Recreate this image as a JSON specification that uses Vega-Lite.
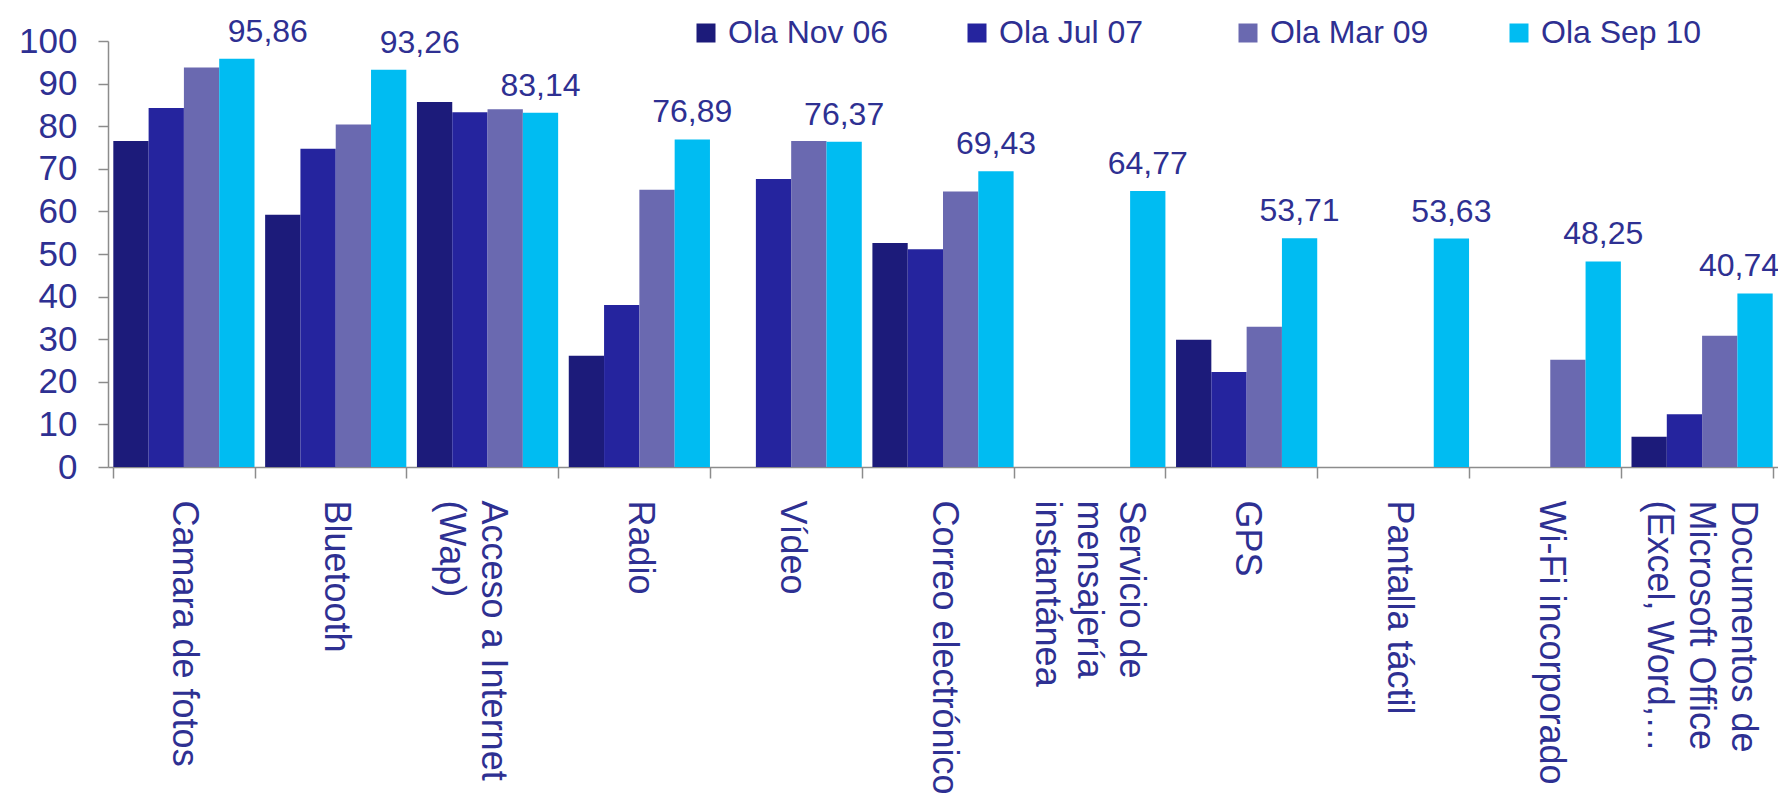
{
  "$schema": "https://vega.github.io/schema/vega-lite/v6.json",
  "width": 1670,
  "height": 426,
  "autosize": {"type": "none"},
  "padding": {"left": 108, "top": 41, "right": 0, "bottom": 336},
  "background": "white",
  "config": {
    "view": {"stroke": null},
    "font": "Liberation Sans",
    "locale": {"number": {"decimal": ",", "thousands": ".", "grouping": [3], "currency": ["", " €"]}}
  },
  "data": {
    "values": [
      {"category": "Camara de fotos", "series": "Ola Nov 06", "value": 76.5},
      {"category": "Camara de fotos", "series": "Ola Jul 07", "value": 84.3},
      {"category": "Camara de fotos", "series": "Ola Mar 09", "value": 93.8},
      {"category": "Camara de fotos", "series": "Ola Sep 10", "value": 95.86},
      {"category": "Bluetooth", "series": "Ola Nov 06", "value": 59.2},
      {"category": "Bluetooth", "series": "Ola Jul 07", "value": 74.7},
      {"category": "Bluetooth", "series": "Ola Mar 09", "value": 80.4},
      {"category": "Bluetooth", "series": "Ola Sep 10", "value": 93.26},
      {"category": "Acceso a Internet (Wap)", "series": "Ola Nov 06", "value": 85.7},
      {"category": "Acceso a Internet (Wap)", "series": "Ola Jul 07", "value": 83.3},
      {"category": "Acceso a Internet (Wap)", "series": "Ola Mar 09", "value": 84.0},
      {"category": "Acceso a Internet (Wap)", "series": "Ola Sep 10", "value": 83.14},
      {"category": "Radio", "series": "Ola Nov 06", "value": 26.1},
      {"category": "Radio", "series": "Ola Jul 07", "value": 38.0},
      {"category": "Radio", "series": "Ola Mar 09", "value": 65.1},
      {"category": "Radio", "series": "Ola Sep 10", "value": 76.89},
      {"category": "Vídeo", "series": "Ola Jul 07", "value": 67.6},
      {"category": "Vídeo", "series": "Ola Mar 09", "value": 76.5},
      {"category": "Vídeo", "series": "Ola Sep 10", "value": 76.37},
      {"category": "Correo electrónico", "series": "Ola Nov 06", "value": 52.6},
      {"category": "Correo electrónico", "series": "Ola Jul 07", "value": 51.1},
      {"category": "Correo electrónico", "series": "Ola Mar 09", "value": 64.7},
      {"category": "Correo electrónico", "series": "Ola Sep 10", "value": 69.43},
      {"category": "Servicio de mensajería instantánea", "series": "Ola Sep 10", "value": 64.77},
      {"category": "GPS", "series": "Ola Nov 06", "value": 29.9},
      {"category": "GPS", "series": "Ola Jul 07", "value": 22.3},
      {"category": "GPS", "series": "Ola Mar 09", "value": 32.9},
      {"category": "GPS", "series": "Ola Sep 10", "value": 53.71},
      {"category": "Pantalla táctil", "series": "Ola Sep 10", "value": 53.63},
      {"category": "Wi-Fi incorporado", "series": "Ola Mar 09", "value": 25.2},
      {"category": "Wi-Fi incorporado", "series": "Ola Sep 10", "value": 48.25},
      {"category": "Documentos de Microsoft Office (Excel, Word, PowerPoint)", "series": "Ola Nov 06", "value": 7.1},
      {"category": "Documentos de Microsoft Office (Excel, Word, PowerPoint)", "series": "Ola Jul 07", "value": 12.4},
      {"category": "Documentos de Microsoft Office (Excel, Word, PowerPoint)", "series": "Ola Mar 09", "value": 30.8},
      {"category": "Documentos de Microsoft Office (Excel, Word, PowerPoint)", "series": "Ola Sep 10", "value": 40.74}
    ]
  },
  "encoding": {
    "x": {
      "field": "category",
      "type": "nominal",
      "sort": null,
      "scale": {"paddingInner": 0.07, "paddingOuter": 0.035},
      "axis": {
        "title": null,
        "labelAngle": 90,
        "labelAlign": "left",
        "labelBaseline": "middle",
        "labelFontSize": 36,
        "labelColor": "#2E3092",
        "labelPadding": 22,
        "labelLimit": 600,
        "labelLineHeight": 42,
        "labelOverlap": false,
        "labelOffset": {
          "condition": [
            {"test": "datum.value === 'Acceso a Internet (Wap)'", "value": 5},
            {"test": "datum.value === 'Servicio de mensajería instantánea'", "value": 36},
            {"test": "datum.value === 'Documentos de Microsoft Office (Excel, Word, PowerPoint)'", "value": 40}
          ],
          "value": 0
        },
        "tickBand": "extent",
        "tickSize": 11,
        "tickColor": "#8C8C8C",
        "tickWidth": 1.5,
        "domainColor": "#8C8C8C",
        "domainWidth": 1.5,
        "labelExpr": "datum.value === 'Acceso a Internet (Wap)' ? ['Acceso a Internet', '(Wap)'] : datum.value === 'Servicio de mensajería instantánea' ? ['Servicio de', 'mensajería', 'instantánea'] : datum.value === 'Documentos de Microsoft Office (Excel, Word, PowerPoint)' ? ['Documentos de', 'Microsoft Office', '(Excel, Word,…'] : datum.value"
      }
    },
    "xOffset": {
      "field": "series",
      "type": "nominal",
      "scale": {"domain": ["Ola Nov 06", "Ola Jul 07", "Ola Mar 09", "Ola Sep 10"], "paddingInner": 0, "paddingOuter": 0}
    },
    "y": {
      "field": "value",
      "type": "quantitative",
      "scale": {"domain": [0, 100], "nice": false},
      "axis": {
        "title": null,
        "values": [0, 10, 20, 30, 40, 50, 60, 70, 80, 90, 100],
        "grid": false,
        "labelFontSize": 35,
        "labelColor": "#2E3092",
        "labelPadding": 21,
        "tickSize": 10,
        "tickColor": "#8C8C8C",
        "tickWidth": 1.5,
        "domainColor": "#8C8C8C",
        "domainWidth": 1.5
      }
    }
  },
  "layer": [
    {
      "mark": {"type": "bar"},
      "encoding": {
        "color": {
          "field": "series",
          "type": "nominal",
          "scale": {
            "domain": ["Ola Nov 06", "Ola Jul 07", "Ola Mar 09", "Ola Sep 10"],
            "range": ["#1C1B7A", "#25249E", "#6A69B0", "#00BCF2"]
          },
          "legend": {
            "title": null,
            "orient": "none",
            "legendX": 582,
            "legendY": -24,
            "direction": "horizontal",
            "columns": 4,
            "gridAlign": "all",
            "columnPadding": 72,
            "symbolType": "square",
            "symbolSize": 361,
            "symbolStrokeWidth": 0,
            "symbolOpacity": 1,
            "labelFontSize": 32,
            "labelColor": "#2E3092",
            "labelOffset": 6,
            "labelLimit": 300,
            "padding": 0
          }
        }
      }
    },
    {
      "transform": [{"filter": "datum.series === 'Ola Sep 10' && (datum.category === 'Camara de fotos' || datum.category === 'Bluetooth')"}],
      "mark": {"type": "text", "baseline": "alphabetic", "dy": -17, "dx": 31, "fontSize": 32, "color": "#2E3092"},
      "encoding": {
        "text": {"field": "value", "type": "quantitative", "format": ".2f"}
      }
    },
    {
      "transform": [{"filter": "datum.series === 'Ola Sep 10' && datum.category === 'Documentos de Microsoft Office (Excel, Word, PowerPoint)'"}],
      "mark": {"type": "text", "baseline": "alphabetic", "dy": -17, "dx": -16, "fontSize": 32, "color": "#2E3092"},
      "encoding": {
        "text": {"field": "value", "type": "quantitative", "format": ".2f"}
      }
    },
    {
      "transform": [{"filter": "datum.series === 'Ola Sep 10' && datum.category !== 'Camara de fotos' && datum.category !== 'Bluetooth' && datum.category !== 'Documentos de Microsoft Office (Excel, Word, PowerPoint)'"}],
      "mark": {"type": "text", "baseline": "alphabetic", "dy": -17, "fontSize": 32, "color": "#2E3092"},
      "encoding": {
        "text": {"field": "value", "type": "quantitative", "format": ".2f"}
      }
    }
  ]
}
